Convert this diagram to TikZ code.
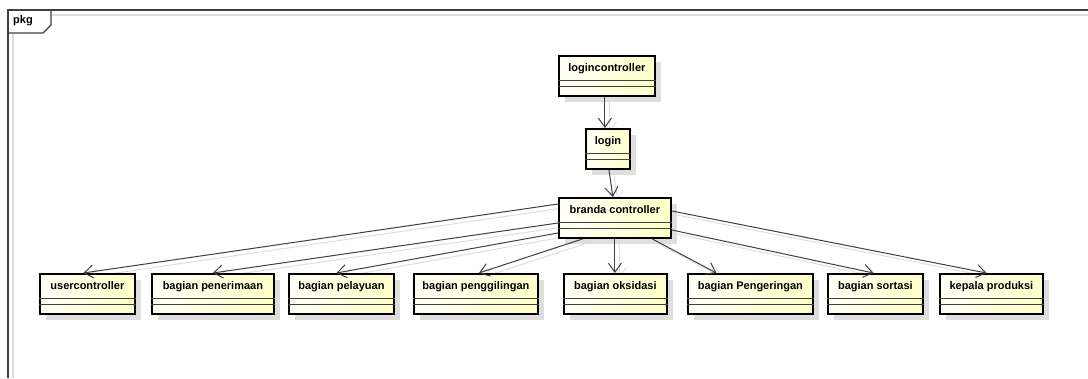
\documentclass[tikz,border=0pt]{standalone}
\usepackage{fontspec}
\setmainfont{Liberation Sans}
\usetikzlibrary{arrows.meta,calc,shadows,backgrounds}
\definecolor{framegray}{RGB}{64,64,64}
\definecolor{shade}{RGB}{222,222,222}
\definecolor{classlight}{RGB}{255,255,246}
\definecolor{classdark}{RGB}{255,255,200}
\begin{document}
\begin{tikzpicture}[x=1pt,y=-1pt,
  classbox/.style={draw=black, line width=1.8pt, anchor=north west, inner sep=0pt,
    minimum height=40pt, text height=16pt, text depth=24pt,
    font=\bfseries\fontsize{11}{13}\selectfont,
    left color=classlight, right color=classdark,
    drop shadow={shadow xshift=6pt, shadow yshift=-6pt, fill=shade, opacity=1}},
  divider/.style={draw=framegray, line width=0.9pt},
  link/.style={draw=framegray, line width=1pt, -{Straight Barb[length=9pt,width=13pt,line width=1pt]}},
  linkshade/.style={draw=shade, line width=1pt, -{Straight Barb[length=9pt,width=13pt,line width=1pt]}},
  frameline/.style={draw=framegray, line width=1.1pt}]
\useasboundingbox (0,0) rectangle (1088,378);

% package frame with its tab
\draw[draw=shade, line width=1.4pt] (13,378) -- (13,15) -- (1088,15);
\draw[frameline, fill=white] (8,33) -- (43,33) -- (51,25) -- (51,10) -- (8,10) -- cycle;
\draw[frameline] (8,378) -- (8,10) -- (1088,10);
\node[anchor=west, inner sep=0pt, font=\bfseries\fontsize{11}{13}\selectfont] (pkg) at (13,21) {pkg};

% classes
\node[classbox, minimum width=96pt]  (logincontroller) at (558,55)  {logincontroller};
\node[classbox, minimum width=44pt]  (login)           at (585,128) {login};
\node[classbox, minimum width=112pt] (branda)          at (558,197) {branda controller};
\node[classbox, minimum width=95pt]  (user)            at (39,273)  {usercontroller};
\node[classbox, minimum width=122pt] (penerimaan)      at (151,273) {bagian penerimaan};
\node[classbox, minimum width=105pt] (pelayuan)        at (288,273) {bagian pelayuan};
\node[classbox, minimum width=124pt] (penggilingan)    at (413,273) {bagian penggilingan};
\node[classbox, minimum width=103pt] (oksidasi)        at (563,273) {bagian oksidasi};
\node[classbox, minimum width=125pt] (pengeringan)     at (687,273) {bagian Pengeringan};
\node[classbox, minimum width=95pt]  (sortasi)         at (827,273) {bagian sortasi};
\node[classbox, minimum width=103pt] (kepala)          at (939,273) {kepala produksi};

% attribute and operation compartments
\foreach \c in {logincontroller,login,branda,user,penerimaan,pelayuan,penggilingan,oksidasi,pengeringan,sortasi,kepala}{
  \draw[divider] ($(\c.north west)+(0,25)$) -- ($(\c.north east)+(0,25)$);
  \draw[divider] ($(\c.north west)+(0,31)$) -- ($(\c.north east)+(0,31)$);
}

% connectors, first their soft shadows, then the lines
\newcommand{\connectors}[1]{%
  \draw[#1] (logincontroller.south) ++(-2,0) coordinate (lc) -- (lc |- login.north);
  \draw[#1] ($(login.south)+(1,0)$) -- ($(branda.north)+(-2,0)$);
  \draw[#1] ($(branda.north west)+(0,7)$)   -- ($(user.north)+(-4,0)$);
  \draw[#1] ($(branda.north west)+(0,26)$)  -- (penerimaan.north);
  \draw[#1] ($(branda.north west)+(0,36)$)  -- ($(pelayuan.north)+(-5,0)$);
  \draw[#1] ($(branda.south west)+(25,0)$)  -- ($(penggilingan.north)+(3,0)$);
  \draw[#1] (branda.south)                  -- (branda.south |- oksidasi.north);
  \draw[#1] ($(branda.south west)+(94,0)$)  -- ($(pengeringan.north)+(-34,0)$);
  \draw[#1] ($(branda.north east)+(0,33)$)  -- ($(sortasi.north)+(-2,0)$);
  \draw[#1] ($(branda.north east)+(0,14)$)  -- ($(kepala.north)+(-5,0)$);
}
\begin{pgfonlayer}{background}
  \begin{scope}[transform canvas={xshift=5pt,yshift=-4pt}]
    \connectors{linkshade}
  \end{scope}
\end{pgfonlayer}
\connectors{link}
\end{tikzpicture}
\end{document}
